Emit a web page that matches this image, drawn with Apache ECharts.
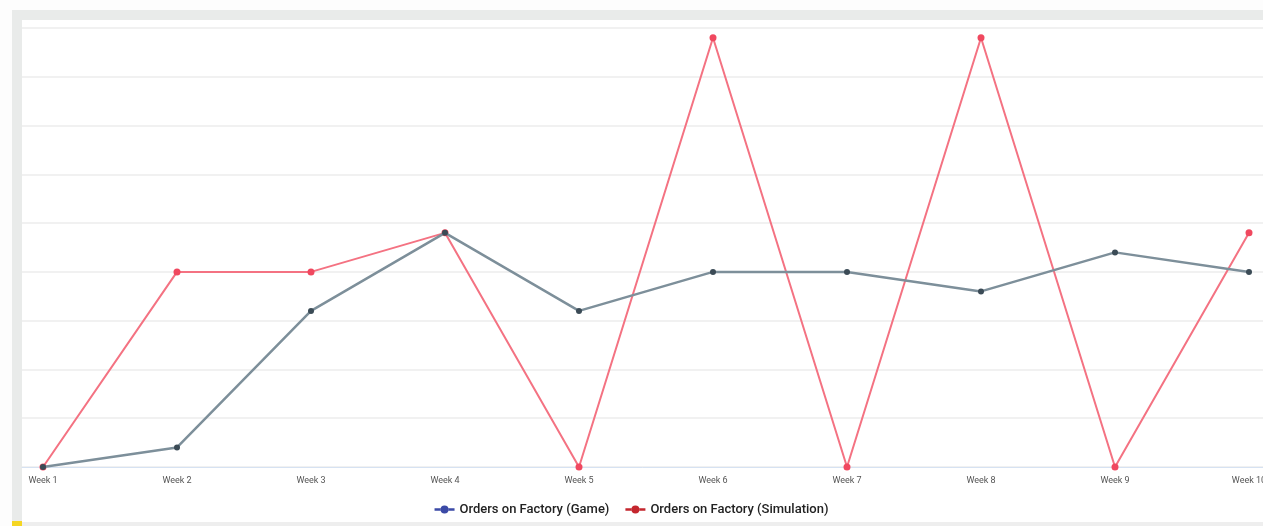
<!DOCTYPE html>
<html>
<head>
<meta charset="utf-8">
<script src="https://cdn.jsdelivr.net/npm/echarts@6/dist/echarts.min.js"></script>
<style>
  html, body { margin: 0; padding: 0; background: #fdfdfd; }
  #chart { width: 1263px; height: 526px; }
</style>
</head>
<body>
<div id="chart"></div>
<script>
// Weekly orders placed on the factory
const weeks = ['Week 1', 'Week 2', 'Week 3', 'Week 4', 'Week 5', 'Week 6', 'Week 7', 'Week 8', 'Week 9', 'Week 10'];
const ordersGame = [0, 2, 16, 24, 16, 20, 20, 18, 22, 20];
const ordersSimulation = [0, 20, 20, 24, 0, 44, 0, 44, 0, 24];
const seriesNames = ['Orders on Factory (Game)', 'Orders on Factory (Simulation)'];

// legend marker: short line with a dot in the middle (non-overlapping pieces)
const lineDotIcon = 'path://M0,3h6.2v2.4h-6.2z M13.8,3h6.2v2.4h-6.2z M6,4.2a4,4 0 1,0 8,0a4,4 0 1,0 -8,0z';

const chart = echarts.init(document.getElementById('chart'), null, { renderer: 'canvas' });

chart.setOption({
  backgroundColor: '#fdfdfd',
  animation: false,
  graphic: [
    // page frame around the chart card
    { type: 'rect', z: -10, shape: { x: 12, y: 10, width: 1251, height: 10 }, style: { fill: '#e9ebea' } },
    { type: 'rect', z: -10, shape: { x: 12, y: 10, width: 10, height: 516 }, style: { fill: '#e9ebea' } },
    { type: 'rect', z: -10, shape: { x: 22, y: 20, width: 1241, height: 502 }, style: { fill: '#ffffff' } },
    { type: 'rect', z: -10, shape: { x: 22, y: 522, width: 1241, height: 4 }, style: { fill: '#eeeeee' } },
    { type: 'rect', z: -10, shape: { x: 12, y: 521, width: 10, height: 5 }, style: { fill: '#f5d623' } }
  ],
  grid: [
    // plotting area
    { left: 43, right: 14, top: 28, bottom: 59, outerBoundsMode: 'none' },
    // full-width background grid for the horizontal rules
    { left: 22, right: 0, top: 28, bottom: 59, outerBoundsMode: 'none', z: 0 }
  ],
  legend: {
    bottom: 5,
    left: 'center',
    itemGap: 16,
    itemWidth: 20,
    itemHeight: 8,
    textStyle: { fontFamily: 'Roboto', fontWeight: 500, fontSize: 13, color: '#222' },
    data: [
      { name: seriesNames[0], icon: lineDotIcon, itemStyle: { color: '#3b4aa6' } },
      { name: seriesNames[1], icon: lineDotIcon, itemStyle: { color: '#c4262e' } }
    ]
  },
  xAxis: [
    {
      type: 'category',
      gridIndex: 0,
      data: weeks,
      boundaryGap: false,
      axisLine: { show: false },
      axisTick: { show: false },
      axisLabel: { fontFamily: 'Roboto', fontSize: 9, color: '#555', margin: 9, interval: 0, showMaxLabel: true, hideOverlap: false }
    },
    {
      type: 'value',
      gridIndex: 1,
      min: 0,
      max: 1,
      axisLine: { show: true, onZero: false, lineStyle: { color: '#d6e2f2', width: 1 } },
      axisTick: { show: false },
      axisLabel: { show: false },
      splitLine: { show: false }
    }
  ],
  yAxis: [
    {
      type: 'value',
      gridIndex: 0,
      min: 0,
      max: 45,
      interval: 5,
      axisLabel: { show: false },
      axisLine: { show: false },
      axisTick: { show: false },
      splitLine: { show: false }
    },
    {
      type: 'value',
      gridIndex: 1,
      min: 0,
      max: 45,
      interval: 5,
      axisLabel: { show: false },
      axisLine: { show: false },
      axisTick: { show: false },
      splitLine: { lineStyle: { color: '#f1f1f1', width: 2 } }
    }
  ],
  series: [
    {
      name: seriesNames[1],
      type: 'line',
      xAxisIndex: 0,
      yAxisIndex: 0,
      data: ordersSimulation,
      z: 2,
      symbol: 'circle',
      symbolSize: 7,
      lineStyle: { color: '#f47282', width: 2 },
      itemStyle: { color: '#f0485f' }
    },
    {
      name: seriesNames[0],
      type: 'line',
      xAxisIndex: 0,
      yAxisIndex: 0,
      data: ordersGame,
      z: 3,
      symbol: 'circle',
      symbolSize: 6,
      lineStyle: { color: '#7d8f9a', width: 2.5 },
      itemStyle: { color: '#3b4b56' }
    }
  ]
});
</script>
</body>
</html>
